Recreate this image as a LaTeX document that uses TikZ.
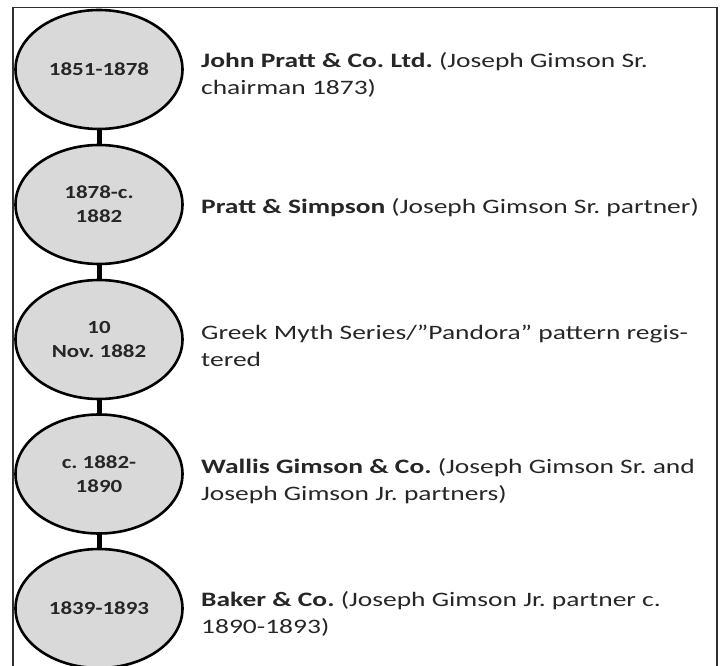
\documentclass[tikz,border=0pt]{standalone}
\usepackage{fontspec}
\setmainfont{Carlito}
\newfontfamily\evfont[FakeStretch=1.34]{Carlito}
\newfontfamily\pfont[FakeStretch=1.24]{Carlito}
\usetikzlibrary{shapes.geometric}
\frenchspacing
\definecolor{ellfill}{HTML}{D9D9D9}
\definecolor{txtgray}{HTML}{262626}
\definecolor{framegray}{HTML}{303030}
\tikzset{
  period/.style={ellipse, draw=black, line width=2.6pt, fill=ellfill,
    minimum width=167pt, minimum height=119pt, inner sep=0pt,
    align=center, text=txtgray, font=\pfont\fontsize{18.5}{24}\selectfont\bfseries\frenchspacing},
  event/.style={anchor=west, align=left, inner sep=0pt, text=txtgray,
    font=\evfont\fontsize{20.5}{27}\selectfont\frenchspacing},
  link/.style={line width=5pt, draw=black},
  frame/.style={line width=1.5pt, draw=framegray}
}
\begin{document}
\begin{tikzpicture}[x=1pt,y=-1pt]
\useasboundingbox (0,0) rectangle (724,666);
\draw[frame] (13,680) -- (13,7.5) -- (717,7.5) -- (717,680);
\node[period] (p1) at (99,69.5) {1851-1878};
\node[period] (p2) at (99,204.5) {1878-c.\\1882};
\node[period] (p3) at (99,339.5) {10\\Nov. 1882};
\node[period] (p4) at (99,474) {c. 1882-\\1890};
\node[period] (p5) at (99,608.5) {1839-1893};
\draw[link] (p1.south) -- (p2.north);
\draw[link] (p2.south) -- (p3.north);
\draw[link] (p3.south) -- (p4.north);
\draw[link] (p4.south) -- (p5.north);
\node[event] (e1) at (201,75) {\textbf{John Pratt \& Co. Ltd.} (Joseph Gimson Sr.\\chairman 1873)};
\node[event] (e2) at (201,208) {\textbf{Pratt \& Simpson} (Joseph Gimson Sr. partner)};
\node[event] (e3) at (201,346) {Greek Myth Series/”Pandora” pattern regis-\\tered};
\node[event] (e4) at (201,481) {\textbf{Wallis Gimson \& Co.} (Joseph Gimson Sr. and\\Joseph Gimson Jr. partners)};
\node[event] (e5) at (201,614) {\textbf{Baker \& Co.} (Joseph Gimson Jr. partner c.\\1890-1893)};
\end{tikzpicture}
\end{document}
